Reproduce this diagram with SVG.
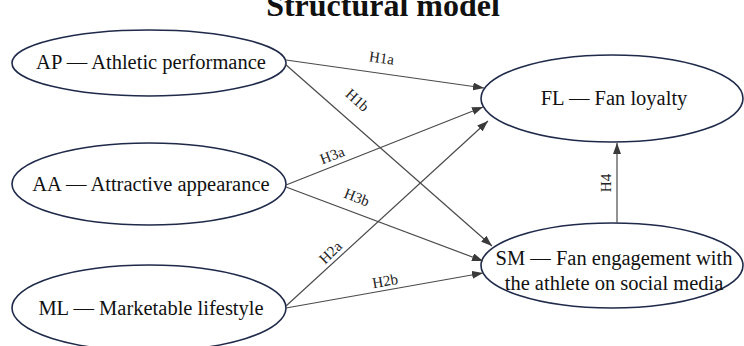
<svg xmlns="http://www.w3.org/2000/svg" width="744" height="346" viewBox="0 0 744 346">
  <style>
    .node ellipse { fill: #ffffff; stroke: #1f2a4a; stroke-width: 1.6; }
    .node text { font-family: "Liberation Serif", "Times New Roman", serif; font-size: 20.5px; fill: #111; text-anchor: middle; }
    .title { font-family: "Liberation Serif", "Times New Roman", serif; font-size: 32px; font-weight: bold; fill: #111; text-anchor: middle; }
    .edges line { stroke: #4a4a4a; stroke-width: 1.2; marker-end: url(#arrow); }
    .lbl { font-family: "Liberation Serif", "Times New Roman", serif; font-size: 15px; fill: #222; text-anchor: middle; }
  </style>
  <defs>
    <marker id="arrow" markerUnits="userSpaceOnUse" markerWidth="11" markerHeight="8" refX="11" refY="4" orient="auto">
      <path d="M0,0 L11,4 L0,8 z" fill="#3a3a3a"/>
    </marker>
  </defs>
  <rect width="744" height="346" fill="#ffffff"/>
  <text class="title" x="383" y="16">Structural model</text>

  <g id="AP" class="node">
    <ellipse cx="149" cy="63" rx="137" ry="33"/>
    <text x="151" y="69">AP — Athletic performance</text>
  </g>
  <g id="AA" class="node">
    <ellipse cx="149" cy="184" rx="137" ry="41"/>
    <text x="151" y="191">AA — Attractive appearance</text>
  </g>
  <g id="ML" class="node">
    <ellipse cx="149" cy="308" rx="137" ry="43"/>
    <text x="151" y="315">ML — Marketable lifestyle</text>
  </g>
  <g id="FL" class="node">
    <ellipse cx="612" cy="98.5" rx="131" ry="43.5"/>
    <text x="614" y="105">FL — Fan loyalty</text>
  </g>
  <g id="SM" class="node">
    <ellipse cx="612" cy="265.5" rx="131" ry="42.5"/>
    <text x="614" y="265">SM — Fan engagement with</text>
    <text x="614" y="290">the athlete on social media</text>
  </g>

  <g id="edges" class="edges">
    <line x1="286" y1="60" x2="484" y2="88"/>
    <line x1="285" y1="64" x2="492" y2="246"/>
    <line x1="286" y1="185" x2="483" y2="107"/>
    <line x1="286" y1="187" x2="483" y2="261"/>
    <line x1="286" y1="306" x2="488" y2="121"/>
    <line x1="286" y1="308" x2="483" y2="273"/>
    <line x1="617" y1="223" x2="617" y2="143"/>
  </g>
  <g id="labels">
    <text class="lbl" transform="translate(381,63) rotate(8)">H1a</text>
    <text class="lbl" transform="translate(354,104) rotate(42)">H1b</text>
    <text class="lbl" transform="translate(334,160) rotate(-21)">H3a</text>
    <text class="lbl" transform="translate(355,202) rotate(21)">H3b</text>
    <text class="lbl" transform="translate(334,256) rotate(-44)">H2a</text>
    <text class="lbl" transform="translate(386,286) rotate(-10)">H2b</text>
    <text class="lbl" transform="translate(611,183) rotate(-90)">H4</text>
  </g>
</svg>
